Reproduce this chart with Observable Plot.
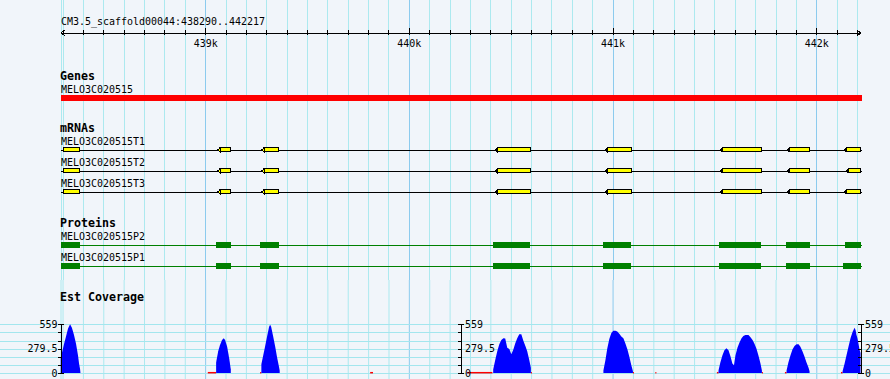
<!DOCTYPE html>
<html><head><meta charset="utf-8">
<script src="https://cdn.jsdelivr.net/npm/d3@7"></script>
<script src="https://cdn.jsdelivr.net/npm/@observablehq/plot@0.6"></script>
<style>
body{margin:0;background:#f1f5fa;}
#chart{width:890px;height:379px;overflow:hidden;background:#f1f5fa;}
#chart svg{display:block;}
#chart text{font-family:"DejaVu Sans Mono","Liberation Mono",monospace;}
</style></head><body><div id="chart"></div>
<script>
// ---------- data ----------
const regionName = "CM3.5_scaffold00044";
const regionStart = 438290;
const regionEnd = 442217;
const majorTicks = [439000, 440000, 441000, 442000];
const majorTickLabels = ["439k", "440k", "441k", "442k"];
const minorTicks = d3.range(438300, 442201, 100).filter(t => !majorTicks.includes(t));

const geneName = "MELO3C020515";
const geneSpan = [438290, 442217];

const transcripts = ["MELO3C020515T1", "MELO3C020515T2", "MELO3C020515T3"];
const exonsT1 = [[438290,438382],[439059,439124],[439275,439362],[440421,440595],[440961,441091],[441526,441729],[441855,441965],[442135,442217]];
const exonsT2 = [[438290,438382],[439059,439124],[439275,439362],[440421,440595],[440961,441091],[441526,441729],[441855,441965],[442145,442217]];
const exonsT3 = [[438290,438382],[439059,439124],[439275,439362],[440421,440595],[440961,441091],[441526,441729],[441855,441965],[442135,442217]];

const proteins = ["MELO3C020515P2", "MELO3C020515P1"];
const cdsP2 = [[438290,438386],[439054,439127],[439270,439363],[440414,440596],[440955,441092],[441520,441731],[441849,441967],[442139,442217]];
const cdsP1 = [[438290,438386],[439054,439127],[439270,439363],[440414,440596],[440955,441092],[441520,441731],[441849,441967],[442129,442217]];

const covMax = 559;
const covTickLabels = ["0", "279.5", "559"];
const covTickValues = [0, 279.5, 559];

const peak1Pos = [438291,438297,438307,438317,438327,438337,438346,438356,438366,438376,438381,438386,438388];
const peak1Val = [169,230,330,420,510,559,520,440,340,200,110,46,0];
const peak2Pos = [439054,439064,439073,439083,439091,439098,439108,439118,439123,439126];
const peak2Val = [120,250,320,380,398,380,300,170,90,40];
const peak3Pos = [439276,439285,439294,439304,439314,439319,439324,439334,439344,439353,439361,439366];
const peak3Val = [100,200,300,420,530,555,530,420,300,180,90,30];
const peak4Pos = [440414,440424,440434,440444,440454,440464,440473,440483,440493,440503,440513,440522,440532,440542,440552,440562,440572,440581,440591,440599];
const peak4Val = [40,150,250,330,380,400,395,290,275,215,270,340,400,445,445,370,310,250,150,60];
const peak5Pos = [440955,440965,440974,440984,440994,441004,441014,441023,441033,441043,441053,441063,441073,441082,441092,441100];
const peak5Val = [30,150,280,390,460,486,486,475,450,420,400,340,270,190,90,20];
const peak6Pos = [441520,441529,441539,441549,441559,441569,441579,441588,441596,441603,441613,441623,441633,441642,441652,441667,441677,441687,441696,441706,441716,441726,441733];
const peak6Val = [30,120,200,260,283,260,190,110,90,200,290,350,400,425,436,436,410,380,340,280,200,110,30];
const peak7Pos = [441854,441863,441873,441883,441893,441903,441913,441922,441932,441942,441952,441962,441967];
const peak7Val = [30,120,200,270,310,329,329,300,250,190,120,60,20];
const peak8Pos = [442129,442139,442148,442158,442168,442178,442188,442193,442197,442202,442207,442212,442217];
const peak8Val = [20,110,200,300,400,470,520,490,440,400,340,270,230];
const lowCoverage = [[439013,439054],[439270,439276],[439810,439824],[440285,440410],[440599,440604],[441100,441105],[441210,441215],[441512,441520],[441733,441738],[441846,441854],[442121,442129]];

// ---------- tables ----------
const exonRows = [exonsT1, exonsT2, exonsT3].flatMap((ex, i) => ex.map(([s, e]) => ({t: transcripts[i], s, e})));
const cdsRows = [cdsP2, cdsP1].flatMap((ex, i) => ex.map(([s, e]) => ({t: proteins[i], s, e})));
const peaks = [[peak1Pos,peak1Val],[peak2Pos,peak2Val],[peak3Pos,peak3Val],[peak4Pos,peak4Val],[peak5Pos,peak5Val],[peak6Pos,peak6Val],[peak7Pos,peak7Val],[peak8Pos,peak8Val]];
const covRows = peaks.flatMap(([P, V], k) => P.map((p, j) => ({peak: k, pos: p, v: V[j]})));

// ---------- layout / style ----------
const mono = "'DejaVu Sans Mono', 'Liberation Mono', monospace";
const bg = "#f1f5fa";
const minorGridColor = "#ace9ef";
const majorGridColor = "#8ccbee";
const W = 890;
const xOpt = {type: "linear", domain: [regionStart, regionEnd], range: [60.5, 860.5], axis: null};
const rowY = {
  "MELO3C020515T1": 149.5, "MELO3C020515T2": 170.5, "MELO3C020515T3": 191.5,
  "MELO3C020515P2": 244.5, "MELO3C020515P1": 265.5
};
const gridMarks = () => [
  Plot.ruleX([regionStart, ...minorTicks], {stroke: minorGridColor}),
  Plot.ruleX(majorTicks, {stroke: majorGridColor})
];
const txt = (s, x, y, bold) => Plot.text([s], {x: () => x, y: () => y, text: d => d, textAnchor: "start", lineAnchor: "middle",
  fontFamily: mono, fontSize: bold ? 11.5 : 10, fontWeight: bold ? "bold" : "normal", fill: "black", dx: bold ? -1 : 0});

const mid = (regionStart + regionEnd) / 2;
const taper = {draw(ctx) { ctx.moveTo(0, 0); ctx.lineTo(2.5, -2); ctx.lineTo(2.5, 2); ctx.closePath(); }};

const tracks = Plot.plot({
  width: W, height: 280, margin: 0,
  x: xOpt, y: {type: "identity", axis: null},
  style: {background: bg, fontFamily: mono, shapeRendering: "crispEdges", overflow: "visible"},
  marks: [
    ...gridMarks(),
    txt(`${regionName}:${regionStart}..${regionEnd}`, regionStart, 21.6, false),
    Plot.arrow([[mid, regionStart], [mid, regionEnd]], {x1: d => d[0], x2: d => d[1], y1: () => 32.5, y2: () => 32.5,
      stroke: "black", headLength: 6, headAngle: 72, strokeWidth: 1}),
    Plot.ruleX(minorTicks, {y1: () => 30, y2: () => 35, stroke: "black"}),
    Plot.ruleX(majorTicks, {y1: () => 28, y2: () => 35, stroke: "black"}),
    Plot.text(majorTicks, {x: d => d, y: () => 42.8, text: (d, i) => majorTickLabels[i], lineAnchor: "middle", fontFamily: mono, fontSize: 10, fill: "black"}),
    // Genes
    txt("Genes", regionStart, 76.3, true),
    txt(geneName, regionStart, 88.8, false),
    Plot.rect([geneSpan], {x1: d => d[0], x2: d => d[1], y1: () => 94.8, y2: () => 100.6, fill: "#ff0000", insetRight: -1.5}),
    // mRNAs
    txt("mRNAs", regionStart, 128.3, true),
    Plot.text(transcripts, {x: () => regionStart, y: d => rowY[d] - 8.3, text: d => d, textAnchor: "start", lineAnchor: "middle", fontFamily: mono, fontSize: 10, fill: "black"}),
    Plot.ruleY(transcripts, {y: d => rowY[d], x1: () => regionStart, x2: () => regionEnd, stroke: "black", insetRight: -1.5}),
    Plot.rect(exonRows, {x1: "s", x2: "e", y1: d => rowY[d.t] - 2, y2: d => rowY[d.t] + 2, fill: "#ffff00", stroke: "black",
      insetLeft: 2.5, insetRight: 0}),
    Plot.dot(exonRows.filter(d => d.s > regionStart), {x: "s", y: d => rowY[d.t], symbol: taper, fill: "#ffff00", stroke: "black", strokeWidth: 1}),
    // Proteins
    txt("Proteins", regionStart, 223, true),
    Plot.text(proteins, {x: () => regionStart, y: d => rowY[d] - 7.8, text: d => d, textAnchor: "start", lineAnchor: "middle", fontFamily: mono, fontSize: 10, fill: "black"}),
    Plot.ruleY(proteins, {y: d => rowY[d], x1: () => regionStart, x2: () => regionEnd, stroke: "#008000", insetRight: -1.5}),
    Plot.rect(cdsRows, {x1: "s", x2: "e", y1: d => rowY[d.t] - 2.5, y2: d => rowY[d.t] + 3.5, fill: "#008000"})
  ]
});

const covGrid = d3.range(0, 7).map(i => covMax * i / 6);
const covAxes = [regionStart, mid, regionEnd];
const axisTicks = covAxes.flatMap(a => covGrid.map(v => ({a, v})));
const coverage = Plot.plot({
  width: W, height: 99, margin: 0,
  x: xOpt, y: {type: "linear", domain: [0, covMax], range: [93, 44.3], axis: null},
  style: {background: bg, fontFamily: mono, overflow: "visible"},
  marks: [
    ...gridMarks(),
    Plot.ruleY(covGrid, {stroke: "#a3e6ee", shapeRendering: "crispEdges"}),
    Plot.text(["Est Coverage"], {frameAnchor: "top-left", dx: 59.5, dy: 17.3, text: d => d, textAnchor: "start", lineAnchor: "middle",
      fontFamily: mono, fontSize: 11.5, fontWeight: "bold", fill: "black"}),
    Plot.ruleY(lowCoverage, {x1: d => d[0], x2: d => d[1], y: () => 0, stroke: "#ff0000", strokeWidth: 1.5, dy: -0.8}),
    Plot.areaY(covRows, {x: "pos", y: "v", z: "peak", fill: "#0000ff", curve: "linear"}),
    Plot.ruleX(covAxes, {y1: () => 0, y2: () => covMax, stroke: "black", dx: 0.5, shapeRendering: "crispEdges"}),
    Plot.ruleY(axisTicks, {x1: "a", x2: "a", y: "v", stroke: "black", insetLeft: -3, dx: 0.5, shapeRendering: "crispEdges"}),
    Plot.ruleY(covAxes.flatMap(a => [{a, v: 0}, {a, v: covMax}]), {x1: "a", x2: "a", y: "v", stroke: "black", insetRight: -2.5, dx: 0.5, shapeRendering: "crispEdges"}),
    Plot.text(covTickValues, {x: () => regionStart, y: d => d, text: (d, i) => covTickLabels[i], textAnchor: "end", lineAnchor: "middle", dx: -3.5,
      fontFamily: mono, fontSize: 10, fill: "black"}),
    Plot.text(covAxes.slice(1).flatMap(a => covTickValues.map((v, i) => ({a, v, i}))), {x: "a", y: "v", text: d => covTickLabels[d.i],
      textAnchor: "start", lineAnchor: "middle", dx: 4, fontFamily: mono, fontSize: 10, fill: "black"})
  ]
});

const chart = document.getElementById("chart");
chart.appendChild(tracks);
chart.appendChild(coverage);

// fixed-width look of the original bitmap font: 6px per glyph, 7px per bold glyph
chart.querySelectorAll("text").forEach(t => {
  const s = t.textContent;
  const bold = +getComputedStyle(t).fontWeight >= 600;
  t.setAttribute("textLength", s.length * (bold ? 7 : 6));
  t.setAttribute("lengthAdjust", "spacingAndGlyphs");
});
</script></body></html>
